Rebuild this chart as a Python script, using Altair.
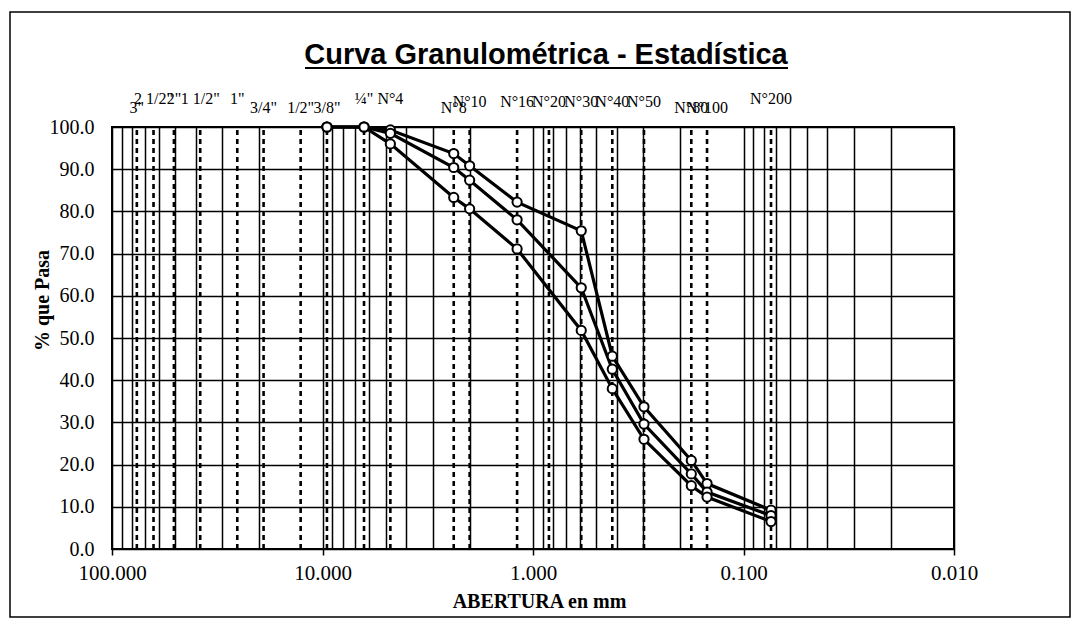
import altair as alt
import pandas as pd

# Sieves (name, opening in mm)
sieve_names = ['3"', '2 1/2"', '2"', '1 1/2"', '1"', '3/4"', '1/2"', '3/8"', '¼"', 'N°4',
               'N°8', 'N°10', 'N°16', 'N°20', 'N°30', 'N°40', 'N°50', 'N°80', 'N°100', 'N°200']
sieve_mm = [76.2, 63.5, 50.8, 38.1, 25.4, 19.05, 12.7, 9.525, 6.35, 4.76,
            2.38, 2.0, 1.19, 0.84, 0.59, 0.42, 0.297, 0.177, 0.149, 0.074]
labels_high = ['2 1/2"', '2"', '1 1/2"', '1"', '¼"', 'N°4', 'N°200']
labels_low = ['3"', '3/4"', '1/2"', '3/8"', 'N°8', 'N°80', 'N°100']

# Test results (% passing)
test_mm = [9.525, 6.35, 4.76, 2.38, 2.0, 1.19, 0.59, 0.42, 0.297, 0.177, 0.149, 0.074]
pass_a = [100.0, 100.0, 99.3, 93.7, 90.8, 82.2, 75.4, 45.7, 33.7, 21.0, 15.5, 9.2]
pass_b = [100.0, 100.0, 98.5, 90.4, 87.4, 78.0, 61.9, 42.6, 29.6, 17.8, 13.5, 7.9]
pass_c = [100.0, 100.0, 96.0, 83.3, 80.6, 71.1, 51.8, 38.0, 26.0, 15.0, 12.3, 6.5]

decades = [100, 10, 1, 0.1, 0.01]
grid_ticks = sorted({round(k * 10.0 ** n, 4) for n in range(-2, 2) for k in range(1, 10)} | {100.0})
y_ticks = list(range(0, 101, 10))

title_text = "Curva Granulométrica - Estadística"

sieve_df = pd.DataFrame({"name": sieve_names, "mm": sieve_mm})
sieve_df["nivel"] = ["alto" if n in labels_high else ("bajo" if n in labels_low else "medio")
                     for n in sieve_names]

rows = []
for serie, vals in (("A", pass_a), ("B", pass_b), ("C", pass_c)):
    for mm, v in zip(test_mm, vals):
        rows.append({"serie": serie, "mm": mm, "pasa": v})
curve_df = pd.DataFrame(rows)

W, H = 842, 422
serif = "Liberation Serif"

xs = alt.Scale(type="log", domain=[0.01, 100], reverse=True, nice=False)
ys = alt.Scale(domain=[0, 100], nice=False)

dec_test = "indexof([100,10,1,0.1,0.01], datum.value) >= 0"

x_axis = alt.Axis(
    values=grid_ticks, grid=True, gridColor="black", gridWidth=1.5, gridOpacity=1,
    labelExpr=f"{dec_test} ? format(datum.value, '.3f') : ''",
    labelFont=serif, labelFontSize=21, labelColor="black", labelPadding=7,
    ticks=True, tickSize=6, tickColor="black", tickWidth=1.5,
    tickOpacity={"condition": {"test": dec_test, "value": 1}, "value": 0},
    domain=False, labelFlush=False,
    title="ABERTURA  en mm", titleFont=serif, titleFontSize=20, titleFontWeight="bold",
    titleColor="black", titlePadding=8, titleX=427, titleAlign="center",
)
y_axis = alt.Axis(
    values=y_ticks, format=".1f", grid=True, gridColor="black", gridWidth=1.7, gridOpacity=1,
    labelFont=serif, labelFontSize=20, labelColor="black", labelPadding=18,
    ticks=False, domain=False,
    title="% que Pasa", titleFont=serif, titleFontSize=20, titleFontWeight="bold",
    titleColor="black", titleX=-70, titleY=173, titleAngle=-90, titleBaseline="middle",
    titleAlign="center",
)

sieve_rules = alt.Chart(sieve_df).mark_rule(
    color="black", strokeWidth=2.6, strokeDash=[5, 4]
).encode(
    x=alt.X("mm:Q", scale=xs, axis=x_axis),
    y=alt.datum(0, scale=ys, axis=y_axis),
    y2=alt.datum(100),
)

lines = alt.Chart(curve_df).mark_line(color="black", strokeWidth=3.2).encode(
    x=alt.X("mm:Q", scale=xs),
    y=alt.Y("pasa:Q", scale=ys),
    detail="serie:N",
)

points = alt.Chart(curve_df).mark_point(
    shape="circle", filled=True, fill="white", stroke="black", strokeWidth=2, size=85, opacity=1
).encode(
    x=alt.X("mm:Q", scale=xs),
    y=alt.Y("pasa:Q", scale=ys),
)

def label_layer(nivel, dy):
    return alt.Chart(sieve_df).transform_filter(
        alt.datum.nivel == nivel
    ).mark_text(
        font=serif, fontSize=16, color="black", align="center", baseline="alphabetic", dy=dy
    ).encode(
        x=alt.X("mm:Q", scale=xs),
        y=alt.value(0),
        text="name:N",
    )

lab_hi = label_layer("alto", -23)
lab_mid = label_layer("medio", -20)
lab_lo = label_layer("bajo", -14)

title_mark = alt.Chart(pd.DataFrame({"t": [title_text]})).mark_text(
    font="Liberation Sans", fontSize=29, fontWeight="bold",
    color="black", align="center", baseline="alphabetic"
).encode(x=alt.value(434), y=alt.value(-63), text="t:N")

underline = alt.Chart(pd.DataFrame({"t": [0]})).mark_rule(color="black", strokeWidth=2).encode(
    x=alt.value(193), x2=alt.value(676), y=alt.value(-59)
)

border = alt.Chart(pd.DataFrame({"t": [0]})).mark_rect(
    filled=False, stroke="black", strokeWidth=1.5
).encode(
    x=alt.value(-102), x2=alt.value(958), y=alt.value(-115), y2=alt.value(490)
)

chart = alt.layer(
    sieve_rules, lines, points, lab_hi, lab_mid, lab_lo, title_mark, underline, border
).properties(
    width=W, height=H,
    autosize=alt.AutoSizeParams(type="none"),
    padding={"left": 104, "top": 119, "right": 117, "bottom": 69},
    background="white",
).configure_view(stroke="black", strokeWidth=2)

chart.save("out.html", embed_options={"renderer": "svg", "actions": False})
